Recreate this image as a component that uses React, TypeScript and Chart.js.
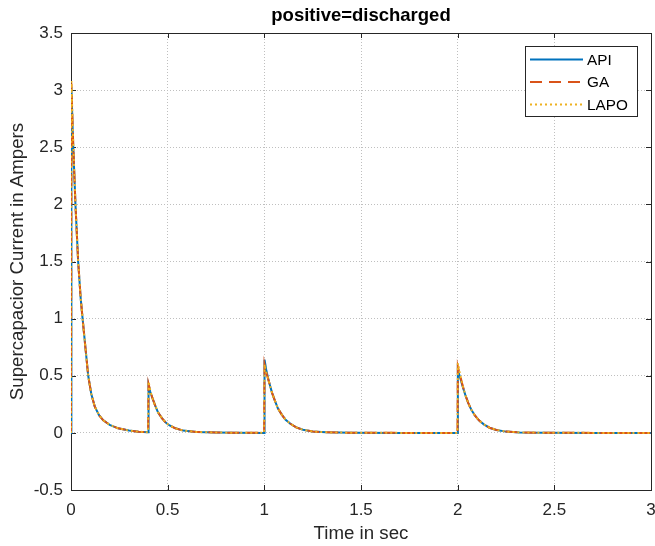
import { useEffect, useRef } from "react";
import { Chart, registerables } from "chart.js";

Chart.register(...registerables);

// ---- data ----
const timeSec = [
  0, 0.002, 0.01, 0.023, 0.037, 0.05, 0.06, 0.075, 0.089, 0.105, 0.123, 0.145, 0.167, 0.2, 0.244, 0.3, 0.35, 0.399,
  0.401, 0.41, 0.42, 0.435, 0.45, 0.47, 0.49, 0.51, 0.54, 0.58, 0.65, 0.75, 0.85, 0.999,
  1.001, 1.01, 1.025, 1.04, 1.055, 1.07, 1.09, 1.11, 1.135, 1.165, 1.2, 1.25, 1.32, 1.45, 1.7, 1.999,
  2.001, 2.01, 2.025, 2.04, 2.055, 2.07, 2.09, 2.11, 2.135, 2.165, 2.2, 2.25, 2.32, 2.45, 2.7, 3.0,
];

const apiCurrent = [
  0, 3.03, 2.58, 2.0, 1.5, 1.18, 1.0, 0.74, 0.5, 0.34, 0.23, 0.155, 0.11, 0.07, 0.04, 0.02, 0.01, 0.005,
  0.42, 0.36, 0.31, 0.24, 0.18, 0.13, 0.09, 0.065, 0.04, 0.02, 0.008, 0.003, 0.001, 0,
  0.64, 0.55, 0.44, 0.35, 0.28, 0.215, 0.16, 0.115, 0.08, 0.048, 0.027, 0.012, 0.005, 0.001, 0, 0,
  0.55, 0.5, 0.41, 0.33, 0.26, 0.205, 0.15, 0.11, 0.075, 0.045, 0.026, 0.011, 0.004, 0.001, 0, 0,
];

const gaCurrent = [
  0, 3.06, 2.6, 2.0, 1.5, 1.18, 1.0, 0.74, 0.5, 0.34, 0.23, 0.155, 0.11, 0.07, 0.04, 0.02, 0.01, 0.005,
  0.43, 0.37, 0.31, 0.24, 0.18, 0.13, 0.09, 0.065, 0.04, 0.02, 0.008, 0.003, 0.001, 0,
  0.6, 0.53, 0.44, 0.35, 0.28, 0.215, 0.16, 0.115, 0.08, 0.048, 0.027, 0.012, 0.005, 0.001, 0, 0,
  0.58, 0.52, 0.42, 0.33, 0.26, 0.205, 0.15, 0.11, 0.075, 0.045, 0.026, 0.011, 0.004, 0.001, 0, 0,
];

const lapoCurrent = [
  0, 3.08, 2.62, 2.0, 1.5, 1.18, 1.0, 0.74, 0.5, 0.34, 0.23, 0.155, 0.11, 0.07, 0.04, 0.02, 0.01, 0.005,
  0.45, 0.37, 0.31, 0.24, 0.18, 0.13, 0.09, 0.065, 0.04, 0.02, 0.008, 0.003, 0.001, 0,
  0.6, 0.53, 0.44, 0.35, 0.28, 0.215, 0.16, 0.115, 0.08, 0.048, 0.027, 0.012, 0.005, 0.001, 0, 0,
  0.61, 0.53, 0.42, 0.33, 0.26, 0.205, 0.15, 0.11, 0.075, 0.045, 0.026, 0.011, 0.004, 0.001, 0, 0,
];

const seriesNames = ["API", "GA", "LAPO"];
const xTicks = [0, 0.5, 1, 1.5, 2, 2.5, 3];
const yTicks = [-0.5, 0, 0.5, 1, 1.5, 2, 2.5, 3, 3.5];
const titleText = "positive=discharged";
const xLabel = "Time in sec";
const yLabel = "Supercapacior Current in Ampers";

const FONT = "'Liberation Sans', Arial, Helvetica, sans-serif";
const TXT = "#262626";
const COLORS = ["#0072BD", "#D95319", "#EDB120"];
const DASHES: number[][] = [[], [12, 7], [2, 3]];

const framePlugin = {
  id: "matlabFrame",
  beforeDatasetsDraw(chart: any) {
    const { ctx, chartArea: a, scales } = chart;
    ctx.save();
    ctx.strokeStyle = "#262626";
    ctx.lineWidth = 1;
    ctx.setLineDash([]);
    ctx.strokeRect(Math.round(a.left) + 0.5, Math.round(a.top) + 0.5, Math.round(a.right - a.left), Math.round(a.bottom - a.top));
    const tl = 5;
    ctx.beginPath();
    xTicks.forEach((v) => {
      const px = Math.round(scales.x.getPixelForValue(v)) + 0.5;
      ctx.moveTo(px, a.bottom);
      ctx.lineTo(px, a.bottom - tl);
      ctx.moveTo(px, a.top);
      ctx.lineTo(px, a.top + tl);
    });
    yTicks.forEach((v) => {
      const py = Math.round(scales.y.getPixelForValue(v)) + 0.5;
      ctx.moveTo(a.left, py);
      ctx.lineTo(a.left + tl, py);
      ctx.moveTo(a.right, py);
      ctx.lineTo(a.right - tl, py);
    });
    ctx.stroke();
    ctx.restore();
  },
  afterDraw(chart: any) {
    const { ctx, chartArea: a } = chart;
    ctx.save();
    // title
    ctx.fillStyle = "#000";
    ctx.font = `bold 18.5px ${FONT}`;
    ctx.textAlign = "center";
    ctx.textBaseline = "middle";
    ctx.fillText(titleText, (a.left + a.right) / 2, 16);
    // legend
    const bx = 525, by = 46.5, bw = 112, bh = 70;
    ctx.fillStyle = "#fff";
    ctx.fillRect(bx, by, bw, bh);
    ctx.strokeStyle = "#262626";
    ctx.lineWidth = 1;
    ctx.setLineDash([]);
    ctx.strokeRect(bx + 0.5, by, bw, bh);
    const rows = [59.5, 82, 104.5];
    seriesNames.forEach((name, i) => {
      ctx.save();
      ctx.strokeStyle = COLORS[i];
      ctx.lineWidth = 2;
      ctx.setLineDash(DASHES[i]);
      ctx.beginPath();
      ctx.moveTo(530, rows[i]);
      ctx.lineTo(583, rows[i]);
      ctx.stroke();
      ctx.restore();
      ctx.fillStyle = "#000";
      ctx.font = `15.3px ${FONT}`;
      ctx.textAlign = "left";
      ctx.textBaseline = "middle";
      ctx.fillText(name, 587, rows[i] + 1);
    });
    ctx.restore();
  },
};

export default function App() {
  const ref = useRef<HTMLCanvasElement | null>(null);

  useEffect(() => {
    if (!ref.current) return;
    const seriesValues = [apiCurrent, gaCurrent, lapoCurrent];
    const datasets = seriesNames.map((name, i) => ({
      label: name,
      data: timeSec.map((t, k) => ({ x: t, y: seriesValues[i][k] })),
      borderColor: COLORS[i],
      backgroundColor: COLORS[i],
      borderWidth: 2,
      borderDash: DASHES[i],
      pointRadius: 0,
      tension: 0,
      fill: false,
      order: 3 - i,
    }));

    const chart = new Chart(ref.current, {
      type: "line",
      data: { datasets },
      plugins: [framePlugin],
      options: {
        animation: false,
        responsive: false,
        layout: { padding: { top: 33, right: 4, left: 0, bottom: 0 } },
        plugins: {
          legend: { display: false },
          tooltip: { enabled: false },
          title: { display: false },
        },
        scales: {
          x: {
            type: "linear",
            min: 0,
            max: 3,
            afterBuildTicks: (s: any) => {
              s.ticks = xTicks.map((v) => ({ value: v }));
            },
            afterFit: (s: any) => {
              s.height = 56;
              s.paddingLeft = 0;
              s.paddingRight = 0;
            },
            ticks: {
              font: { family: FONT, size: 17 },
              color: TXT,
              padding: 10,
              maxRotation: 0,
              autoSkip: false,
              callback: (v: any) => String(v),
            },
            grid: { color: "#bfbfbf", lineWidth: 1, drawTicks: false },
            border: { display: false, dash: [1, 2] },
            title: {
              display: true,
              text: xLabel,
              font: { family: FONT, size: 18.7 },
              color: TXT,
              padding: { top: 0, bottom: 1 },
            },
          },
          y: {
            type: "linear",
            min: -0.5,
            max: 3.5,
            afterBuildTicks: (s: any) => {
              s.ticks = yTicks.map((v) => ({ value: v }));
            },
            afterFit: (s: any) => {
              s.width = 71;
              s.paddingTop = 0;
              s.paddingBottom = 0;
            },
            ticks: {
              font: { family: FONT, size: 17 },
              color: TXT,
              padding: 8,
              autoSkip: false,
              callback: (v: any) => String(v),
            },
            grid: { color: "#bfbfbf", lineWidth: 1, drawTicks: false },
            border: { display: false, dash: [1, 2] },
            title: {
              display: true,
              text: yLabel,
              font: { family: FONT, size: 18.7 },
              color: TXT,
              padding: { top: 7, bottom: 0 },
            },
          },
        },
      },
    } as any);

    return () => chart.destroy();
  }, []);

  return (
    <div style={{ position: "fixed", left: 0, top: 0, width: 655, height: 546, background: "#fff" }}>
      <canvas ref={ref} width={655} height={546} style={{ display: "block" }} />
    </div>
  );
}
